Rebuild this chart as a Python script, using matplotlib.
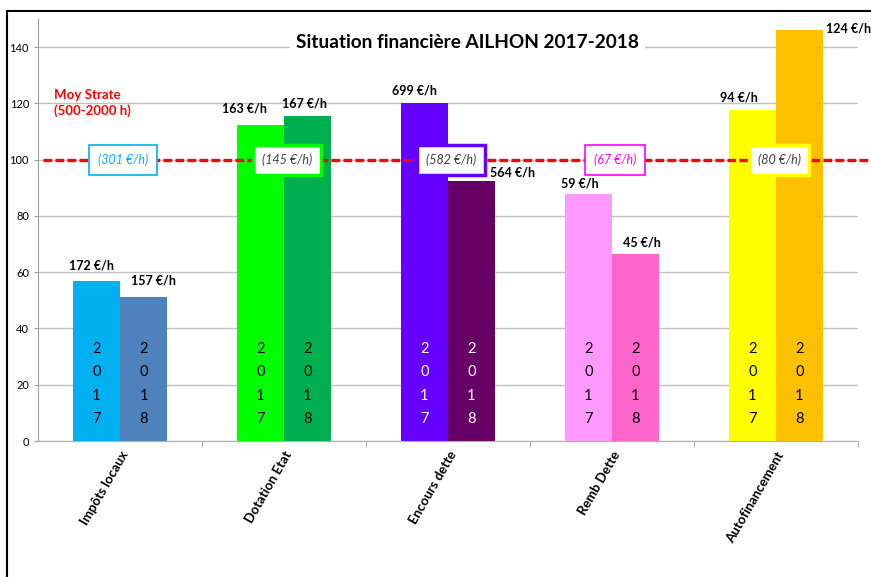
import matplotlib.pyplot as plt
from matplotlib.lines import Line2D
import numpy as np

plt.rcParams['font.family'] = ['Lato', 'DejaVu Sans']

categories = ['Impôts locaux', 'Dotation Etat', 'Encours dette', 'Remb Dette', 'Autofinancement']
vals_2017 = [57, 112.3, 120, 87.8, 117.6]
vals_2018 = [51.2, 115.5, 92.4, 66.5, 146]
lab_2017 = ['172 €/h', '163 €/h', '699 €/h', '59 €/h', '94 €/h']
lab_2018 = ['157 €/h', '167 €/h', '564 €/h', '45 €/h', '124 €/h']
strate = ['(301 €/h)', '(145 €/h)', '(582 €/h)', '(67 €/h)', '(80 €/h)']
strate_level = 100

col_2017 = ['#00b0f0', '#00ff00', '#6600ff', '#ff99ff', '#ffff00']
col_2018 = ['#4f81bd', '#00b050', '#660066', '#ff66cc', '#ffc000']
year_txt = ['black', 'black', 'white', 'black', 'black']
box_txt = ['#00b0f0', '#404040', '#404040', '#ff00ff', '#404040']
box_edge = ['#00b0f0', '#00ff00', '#6600ff', '#ff00ff', '#ffff00']
box_lw = [1.2, 2.5, 2.5, 1.2, 2.5]

# label offsets (x in category units, y in data units)
dx17 = [-0.03, -0.10, -0.06, -0.05, -0.08]
dx18 = [0.06, -0.02, 0.25, 0.04, 0.30]
dy17 = [5.5, 6, 4.7, 3.9, 4.6]
dy18 = [5.7, 4.3, 3.2, 4.2, 0.8]

fig = plt.figure(figsize=(8.71, 5.77), dpi=100)
ax = fig.add_axes([0.0436, 0.2357, 0.9414, 0.7313])

x = np.arange(len(categories))
w = 0.287
ax.bar(x - w / 2, vals_2017, w, color=col_2017, zorder=2)
ax.bar(x + w / 2, vals_2018, w, color=col_2018, zorder=2)

for i in range(len(categories)):
    ax.text(x[i] - w / 2 + dx17[i], vals_2017[i] + dy17[i], lab_2017[i], ha='center', va='center',
            fontsize=9, fontweight='bold', zorder=5)
    ax.text(x[i] + w / 2 + dx18[i], vals_2018[i] + dy18[i], lab_2018[i], ha='center', va='center',
            fontsize=9, fontweight='bold', zorder=5)
    ax.text(x[i] - w / 2, 20.3, '2\n0\n1\n7', ha='center', va='center', fontsize=10.5,
            linespacing=1.85, color=year_txt[i], zorder=4)
    ax.text(x[i] + w / 2, 20.3, '2\n0\n1\n8', ha='center', va='center', fontsize=10.5,
            linespacing=1.85, color=year_txt[i], zorder=4)
    ax.text(x[i] + 0.02, strate_level, strate[i], ha='center', va='center', fontsize=9,
            style='italic', color=box_txt[i], zorder=7,
            bbox=dict(boxstyle='square,pad=0.7', fc='white', ec=box_edge[i], lw=box_lw[i]))

# moyenne strate line
ax.plot([-0.47, 4.58], [strate_level, strate_level], color='#ff0000', lw=2.4,
        dashes=(2.6, 1.0), zorder=6, clip_on=False)
ax.text(-0.4, 123, 'Moy Strate', color='#ff0000', fontsize=9.5, fontweight='bold', va='center')
ax.text(-0.4, 117.3, '(500-2000 h)', color='#ff0000', fontsize=9.5, fontweight='bold', va='center')

ax.text(2.12, 141.5, 'Situation financière AILHON 2017-2018', ha='center', va='center',
        fontsize=13.7, fontweight='bold', zorder=5,
        bbox=dict(boxstyle='square,pad=0.3', fc='white', ec='none'))

ax.set_xlim(-0.5, 4.5)
ax.set_ylim(0, 150)
ax.set_yticks(np.arange(0, 141, 20))
ax.tick_params(axis='y', labelsize=8, length=3, color='#a0a0a0')
ax.set_xticks(x)
ax.set_xticklabels(categories, rotation=60, ha='right', rotation_mode='anchor',
                   fontsize=9.5, fontweight='bold')
ax.tick_params(axis='x', length=0, pad=6)
ax.set_xticks(np.arange(0.5, 4.6, 1), minor=True)
ax.tick_params(axis='x', which='minor', length=4, color='#a0a0a0')
ax.grid(axis='y', color='#c0c0c0', lw=1, zorder=0)
ax.set_axisbelow(True)
for s in ['top', 'right']:
    ax.spines[s].set_visible(False)
ax.spines['left'].set_color('#a0a0a0')
ax.spines['bottom'].set_color('#b0b0b0')

# outer frame
fig.add_artist(Line2D([7 / 871, 1], [1 - 11 / 577, 1 - 11 / 577], color='black', lw=1.5))
fig.add_artist(Line2D([7 / 871, 7 / 871], [0, 1 - 11 / 577], color='black', lw=1.5))

fig.savefig('out.png', dpi=100)
